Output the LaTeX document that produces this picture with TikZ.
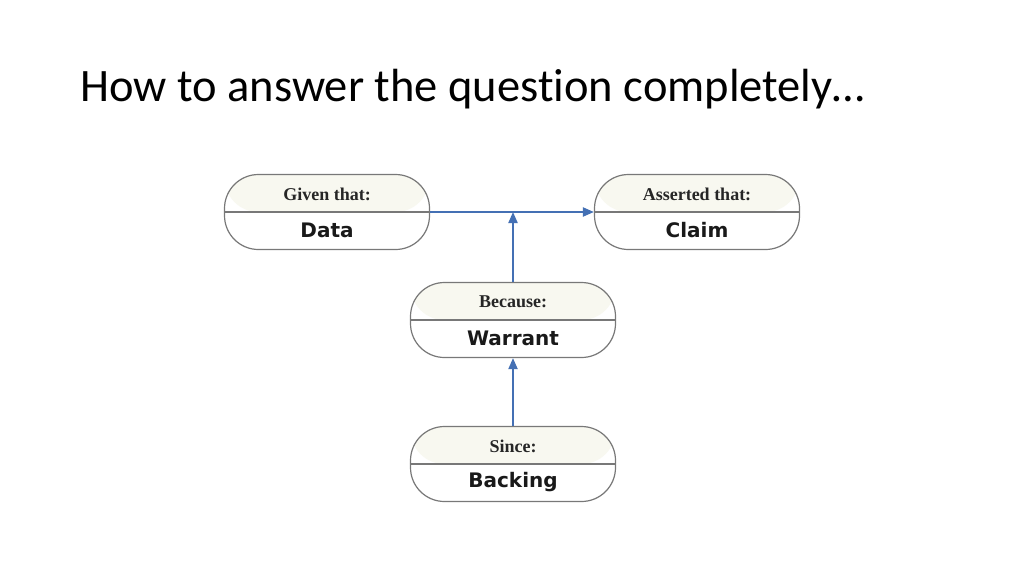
\documentclass[tikz,border=0pt]{standalone}
\usepackage{fontspec}
\setmainfont[Ligatures={NoCommon,NoDiscretionary}]{Carlito}
\newfontfamily\capfont{Liberation Serif}
\newfontfamily\keyfont{DejaVu Sans}
\usepackage[dvipsnames]{xcolor}
\usetikzlibrary{arrows.meta,
                positioning
                }
\definecolor{linkblue}{RGB}{68,112,180}
\definecolor{boxgrey}{RGB}{120,120,120}
\definecolor{cream}{RGB}{248,248,240}

\tikzset{
  argbox/.style={draw=boxgrey, line width=1.2pt, rounded corners=34pt,
    minimum width=205pt, minimum height=75pt,
    path picture={\fill[cream] (path picture bounding box.north west)
      rectangle (path picture bounding box.east);}},
  headtext/.style={font=\capfont\bfseries\fontsize{18}{20}\selectfont, text=black!85},
  keytext/.style={font=\keyfont\bfseries\fontsize{20}{22}\selectfont, text=black!90},
  link/.style={draw=linkblue, line width=2pt, -{Triangle[length=11pt,width=9pt]}}
}

\begin{document}
\begin{tikzpicture}[x=1pt, y=-1pt]

\useasboundingbox[fill=white] (0,0) rectangle (1024,576);

\node[anchor=base west, inner sep=0pt, font=\fontsize{46.5}{50}\selectfont] (title) at (80,101)
  {How to answer the question completely…};

% argument boxes
\node[argbox] (data) at (327,212) {};
\node[argbox] (claim) at (697,212) {};
\node[argbox] (warrant) at (513,320) {};
\node[argbox] (backing) at (513,464) {};

\foreach \n/\head/\key in {data/Given that:/Data,
                           claim/Asserted that:/Claim,
                           warrant/Because:/Warrant,
                           backing/Since:/Backing}{
  \draw[boxgrey, line width=1.2pt] (\n.west) -- (\n.east);
  \node[headtext] (\n-head) at ([yshift=18pt]\n.center) {\head};
  \node[keytext] (\n-key) at ([yshift=-18pt]\n.center) {\key};
}

% connectors
\coordinate (join) at (warrant.north |- data.east);
\draw[link] (data.east) -- (claim.west);
\draw[link] (warrant.north) -- (join);
\draw[link] (backing.north) -- (warrant.south);

\end{tikzpicture}
\end{document}
